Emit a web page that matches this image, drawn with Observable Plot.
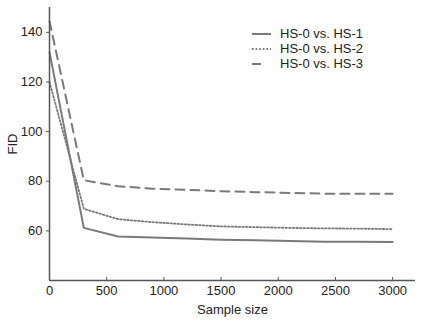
<!DOCTYPE html>
<html><head><meta charset="utf-8">
<script src="https://cdn.jsdelivr.net/npm/d3@7"></script>
<script src="https://cdn.jsdelivr.net/npm/@observablehq/plot@0.6"></script>
<style>
body{margin:0;background:#fff;font-family:"Liberation Sans",Arial,sans-serif;}
#wrap{position:relative;width:423px;height:325px;}
#legend{position:absolute;left:250px;top:26px;font-size:13px;color:#222;line-height:15px;}
#legend div{display:flex;align-items:center;height:15px;}
#legend svg{margin-right:8px;}
</style></head><body>
<div id="wrap"><div id="legend"></div></div>
<script>
const sampleSizes = [0,300,600,900,1200,1500,1800,2100,2400,2700,3000];
const hs1 = [132,61.2,57.7,57.3,56.9,56.4,56.2,55.9,55.6,55.6,55.5];
const hs2 = [120,68.9,64.7,63.5,62.6,61.8,61.5,61.2,61.0,60.9,60.7];
const hs3 = [144.5,80.4,78,77,76.5,76,75.6,75.3,75,75,75];
const seriesNames = ["HS-0 vs. HS-1","HS-0 vs. HS-2","HS-0 vs. HS-3"];
const xTicks = [0,500,1000,1500,2000,2500,3000];
const yTicks = [60,80,100,120,140];

const dashes = [null,"1.6 2","9 6"];
const legendDashes = [null,"1.6 2","9 20"];
const widths = [2,1.8,2];
const series = [hs1,hs2,hs3];
const color = "#7a7a7a";

const marks = [];
series.forEach((vals,i)=>{
  const data = sampleSizes.map((s,j)=>({x:s,y:vals[j]}));
  const opts = {x:"x",y:"y",stroke:color,strokeWidth:widths[i]};
  if (dashes[i]) opts.strokeDasharray = dashes[i];
  marks.push(Plot.line(data,opts));
});

const chart = Plot.plot({
  width:423, height:325,
  marginLeft:49, marginRight:8, marginTop:7, marginBottom:45,
  style:{fontFamily:"Liberation Sans, Arial, sans-serif",fontSize:"13px",color:"#222",background:"#fff"},
  x:{domain:[0,3200]},
  y:{domain:[40,150]},
  marks:[
    ...marks,
    Plot.axisX({ticks:xTicks,tickFormat:d=>String(d),tickSize:-3,tickPadding:8,label:"Sample size",labelAnchor:"center",labelArrow:false,labelOffset:33,stroke:"#555",fontSize:13}),
    Plot.axisY({ticks:yTicks,tickSize:3,tickPadding:4,label:"FID",labelAnchor:"center",labelArrow:false,labelOffset:42,stroke:"#555",fontSize:13}),
    Plot.ruleX([0],{stroke:"#555",strokeWidth:1.5}),
    Plot.ruleY([40],{stroke:"#555",strokeWidth:1.5})
  ]
});
document.getElementById("wrap").prepend(chart);

const lg = document.getElementById("legend");
seriesNames.forEach((n,i)=>{
  const d = document.createElement("div");
  d.innerHTML = `<svg width="22" height="6"><line x1="2" y1="3" x2="21" y2="3" stroke="${color}" stroke-width="${widths[i]}" ${legendDashes[i]?`stroke-dasharray="${legendDashes[i]}"`:""}/></svg><span>${n}</span>`;
  lg.appendChild(d);
});
</script>
</body></html>
